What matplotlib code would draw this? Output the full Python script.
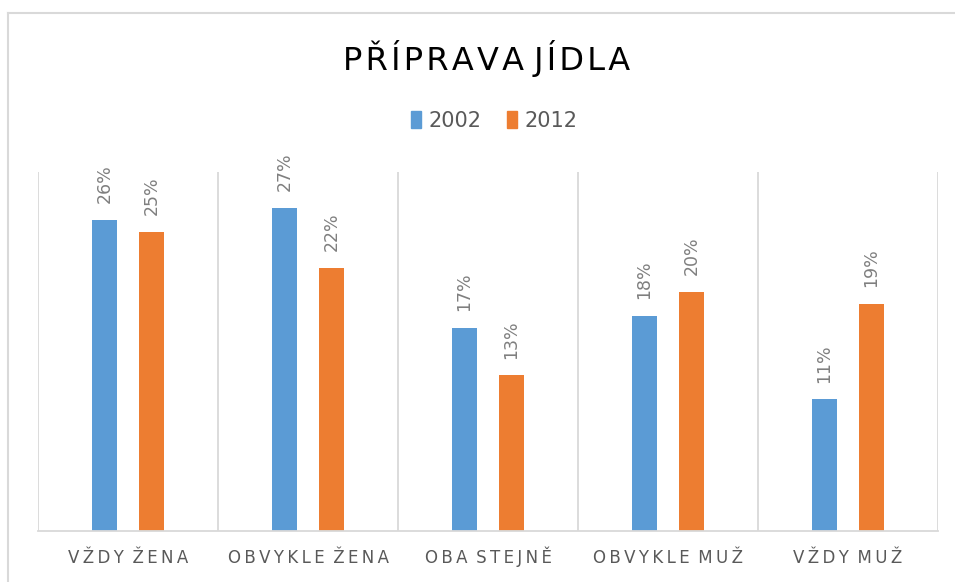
import numpy as np
import matplotlib
matplotlib.use("Agg")
import matplotlib.pyplot as plt
from matplotlib.patches import Patch
from matplotlib.lines import Line2D

# Datos
categorias = ["VŽDY ŽENA", "OBVYKLE ŽENA", "OBA STEJNĚ", "OBVYKLE MUŽ", "VŽDY MUŽ"]
anios = ["2002", "2012"]
valores_2002 = [26, 27, 17, 18, 11]
valores_2012 = [25, 22, 13, 20, 19]

azul = "#5B9BD5"
naranja = "#ED7D31"
gris = "#595959"


def espaciar(texto, sep="\u2009", entre=" "):
    # imitar el espaciado entre letras de Excel
    return entre.join(sep.join(p) for p in texto.split(" "))


fig = plt.figure(figsize=(9.55, 5.82), dpi=100)
ax = fig.add_axes([38 / 955, 51 / 582, 900 / 955, 359 / 582])

x = np.arange(len(categorias))
ancho = 0.14
desp = 0.13

b1 = ax.bar(x - desp, valores_2002, ancho, color=azul)
b2 = ax.bar(x + desp, valores_2012, ancho, color=naranja)

# Etiquetas de datos verticales
for barras, vals in ((b1, valores_2002), (b2, valores_2012)):
    for b, v in zip(barras, vals):
        ax.annotate(f"{v}%", (b.get_x() + b.get_width() / 2, v),
                    xytext=(0, 12), textcoords="offset points",
                    rotation=90, ha="center", va="bottom",
                    fontsize=12.5, color="#7F7F7F")

ax.set_xlim(-0.5, len(categorias) - 0.5)
ax.set_ylim(0, 30)

# Líneas verticales entre categorías
for xi in np.arange(-0.5, len(categorias), 1):
    ax.axvline(xi, color="#D9D9D9", lw=1.3, zorder=0)

for s in ["top", "right", "left"]:
    ax.spines[s].set_visible(False)
ax.spines["bottom"].set_color("#D9D9D9")
ax.spines["bottom"].set_linewidth(1.3)

ax.set_yticks([])
ax.set_xticks(x)
ax.set_xticklabels([espaciar(c, entre=" \u2009") for c in categorias],
                   fontsize=12, color=gris)
ax.tick_params(axis="x", length=0, pad=23)
for t in ax.get_xticklabels():
    t.set_verticalalignment("baseline")

# Título
fig.text(487 / 955, 1 - 70 / 582, espaciar("PŘÍPRAVA JÍDLA", "\u200a"),
         ha="center", va="baseline", fontsize=23, color="black")

# Leyenda
handles = [Patch(color=azul), Patch(color=naranja)]
fig.legend(handles, anios, loc="center", bbox_to_anchor=(494 / 955, 1 - 121 / 582),
           ncol=2, frameon=False, fontsize=15, handlelength=0.5, handleheight=0.85,
           handletextpad=0.35, columnspacing=1.2, labelcolor=gris)

# Marco exterior
fig.add_artist(Line2D([8 / 955, 8 / 955], [0, 1 - 13 / 582], color="#D9D9D9", lw=1.5))
fig.add_artist(Line2D([8 / 955, 1], [1 - 13 / 582, 1 - 13 / 582], color="#D9D9D9", lw=1.5))

fig.savefig("out.png", dpi=100)
